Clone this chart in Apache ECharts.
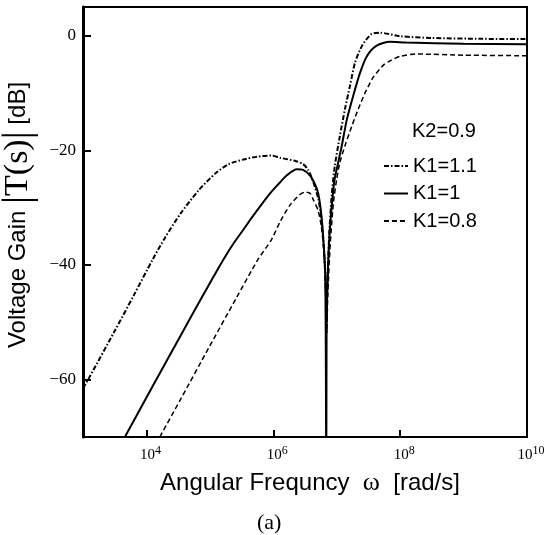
<!DOCTYPE html>
<html><head><meta charset="utf-8">
<script src="https://cdn.jsdelivr.net/npm/echarts@6/dist/echarts.min.js"></script>
<style>html,body{margin:0;padding:0;background:#fff}#c{width:546px;height:535px}</style>
</head><body><div id="c"></div>
<script>
// ---- data (log10 of angular frequency, gain in dB) ----
const seriesNames = ['K1=1.1', 'K1=1', 'K1=0.8'];
const xTickExps = [4, 6, 8, 10];
const yTicks = [0, -20, -40, -60];

const k11_logw = [3.0, 3.1, 3.5, 3.8, 4.1, 4.3, 4.54, 4.82, 5.09, 5.3, 5.53, 5.75, 5.97, 6.11, 6.36, 6.47, 6.55, 6.63, 6.71, 6.76, 6.80, 6.83, 6.84, 6.85, 6.88, 6.92, 6.97, 7.05, 7.13, 7.21, 7.29, 7.40, 7.55, 7.69, 8.0, 8.5, 9.3, 10.0];
const k11_gain = [-61.5, -59.6, -51.5, -45.3, -39.0, -35.1, -31.0, -27.0, -24.0, -22.4, -21.6, -21.1, -20.9, -21.3, -21.9, -22.4, -23.4, -25.5, -28.5, -32.0, -37.5, -45.0, -52.0, -45.0, -35.0, -28.0, -22.7, -17.5, -12.8, -8.7, -4.65, -1.75, 0.3, 0.5, -0.1, -0.4, -0.55, -0.6];

const k10_logw = [3.66, 4.10, 4.54, 4.87, 5.05, 5.20, 5.37, 5.53, 5.67, 5.81, 5.95, 6.08, 6.21, 6.37, 6.47, 6.58, 6.66, 6.71, 6.76, 6.80, 6.82, 6.83, 6.835, 6.84, 6.85, 6.88, 6.92, 6.96, 7.00, 7.08, 7.16, 7.26, 7.37, 7.48, 7.63, 7.84, 8.1, 9.0, 10.0];
const k10_gain = [-70.0, -61.1, -52.3, -45.7, -42.2, -39.3, -36.3, -33.8, -31.6, -29.5, -27.5, -25.9, -24.4, -23.3, -23.4, -24.4, -26.0, -27.6, -31.5, -37.3, -42.0, -60.0, -85.0, -52.0, -45.0, -36.0, -30.0, -25.5, -23.3, -19.2, -14.6, -10.5, -6.4, -3.5, -1.75, -1.05, -1.2, -1.4, -1.5];

const k08_logw = [4.21, 4.54, 4.98, 5.42, 5.75, 5.97, 6.11, 6.26, 6.41, 6.50, 6.58, 6.63, 6.71, 6.76, 6.80, 6.83, 6.845, 6.86, 6.90, 6.95, 7.0, 7.05, 7.13, 7.24, 7.34, 7.45, 7.58, 7.74, 7.84, 8.0, 8.27, 9.0, 10.0];
const k08_gain = [-70.0, -63.4, -54.5, -45.7, -39.2, -35.6, -32.4, -29.6, -27.8, -27.3, -27.5, -28.6, -30.6, -33.5, -38.0, -46.0, -50.0, -45.0, -36.0, -29.0, -25.0, -22.1, -19.2, -15.7, -12.8, -9.9, -7.2, -5.1, -4.4, -3.6, -3.2, -3.4, -3.5];

function pts(lw, g) { return lw.map((e, i) => [Math.pow(10, e), g[i]]); }

const SANS = 'Liberation Sans';
const SERIF = 'Liberation Serif';

const chart = echarts.init(document.getElementById('c'), null, {renderer: 'canvas'});
chart.setOption({
  animation: false,
  backgroundColor: '#fff',
  title: [
    {text: 'K2=0.9', left: 407, top: 116, textStyle: {fontFamily: SANS, fontSize: 20, fontWeight: 'normal', color: '#000'}},
    {text: '(a)', left: 252, top: 507, textStyle: {fontFamily: SERIF, fontSize: 22, fontWeight: 'normal', color: '#000'}}
  ],
  legend: {
    orient: 'vertical', left: 383, top: 156, padding: 0, itemWidth: 24, itemHeight: 14, itemGap: 7.5,
    data: seriesNames,
    itemStyle: {opacity: 0},
    textStyle: {fontFamily: SANS, fontSize: 20, color: '#000'}
  },
  grid: {left: 83, right: 19, top: 7, bottom: 98, outerBoundsMode: 'none', containLabel: false,
    show: true, borderColor: '#000', borderWidth: 2, backgroundColor: 'transparent'},
  xAxis: {
    type: 'log', logBase: 10, min: 1e3, max: 1e10,
    name: 'Angular Frequncy  {w|ω}  [rad/s]',
    nameLocation: 'middle', nameGap: 33,
    nameTextStyle: {fontFamily: SANS, fontSize: 24, color: '#000', padding: [0, 0, 0, 10],
      rich: {w: {fontFamily: SERIF, fontSize: 26, color: '#000'}}},
    axisLine: {show: true, onZero: false, lineStyle: {color: '#000', width: 2}},
    axisTick: {show: true, inside: true, length: 7, lineStyle: {color: '#000', width: 2},
      customValues: xTickExps.slice(0, 3).map(e => Math.pow(10, e))},
    minorTick: {show: false},
    axisLabel: {
      customValues: xTickExps.map(e => Math.pow(10, e)),
      margin: 8,
      formatter: v => '{b|10}{s|' + Math.round(Math.log10(v)) + '}',
      rich: {
        b: {fontFamily: SERIF, fontSize: 15, color: '#000', padding: [0, 0, 0, 8], verticalAlign: 'bottom', lineHeight: 18},
        s: {fontFamily: SERIF, fontSize: 12, color: '#000', verticalAlign: 'top', lineHeight: 18}
      }
    },
    splitLine: {show: false}
  },
  yAxis: {
    type: 'value', min: -70, max: 5,
    name: '{a|Voltage Gain }{b||}{c|T(s)}{b||}{a| [dB]}',
    nameLocation: 'middle', nameRotate: 90, nameGap: 38,
    nameTextStyle: {color: '#000', padding: [0, 0, 0, 14],
      rich: {
        a: {fontFamily: SANS, fontSize: 24, color: '#000'},
        b: {fontFamily: SERIF, fontSize: 40, color: '#000'},
        c: {fontFamily: SERIF, fontSize: 34, color: '#000'}
      }},
    axisLine: {show: true, onZero: false, lineStyle: {color: '#000', width: 3}},
    axisTick: {show: true, inside: true, length: 8, lineStyle: {color: '#000', width: 2}, customValues: yTicks},
    axisLabel: {customValues: yTicks, margin: 7, fontFamily: SERIF, fontSize: 17, color: '#000',
      formatter: v => (v < 0 ? '\u2212' + (-v) : String(v))},
    splitLine: {show: false}
  },
  series: [
    {name: seriesNames[0], type: 'line', data: pts(k11_logw, k11_gain), symbol: 'none', smooth: 0.25,
      lineStyle: {color: '#000', width: 2, type: [5, 2, 1.5, 2]}, itemStyle: {color: '#000'}},
    {name: seriesNames[1], type: 'line', data: pts(k10_logw, k10_gain), symbol: 'none', smooth: 0.25,
      lineStyle: {color: '#000', width: 2, type: 'solid'}, itemStyle: {color: '#000'}},
    {name: seriesNames[2], type: 'line', data: pts(k08_logw, k08_gain), symbol: 'none', smooth: 0.25,
      lineStyle: {color: '#000', width: 1.5, type: [5, 3]}, itemStyle: {color: '#000'}}
  ]
});
</script></body></html>
